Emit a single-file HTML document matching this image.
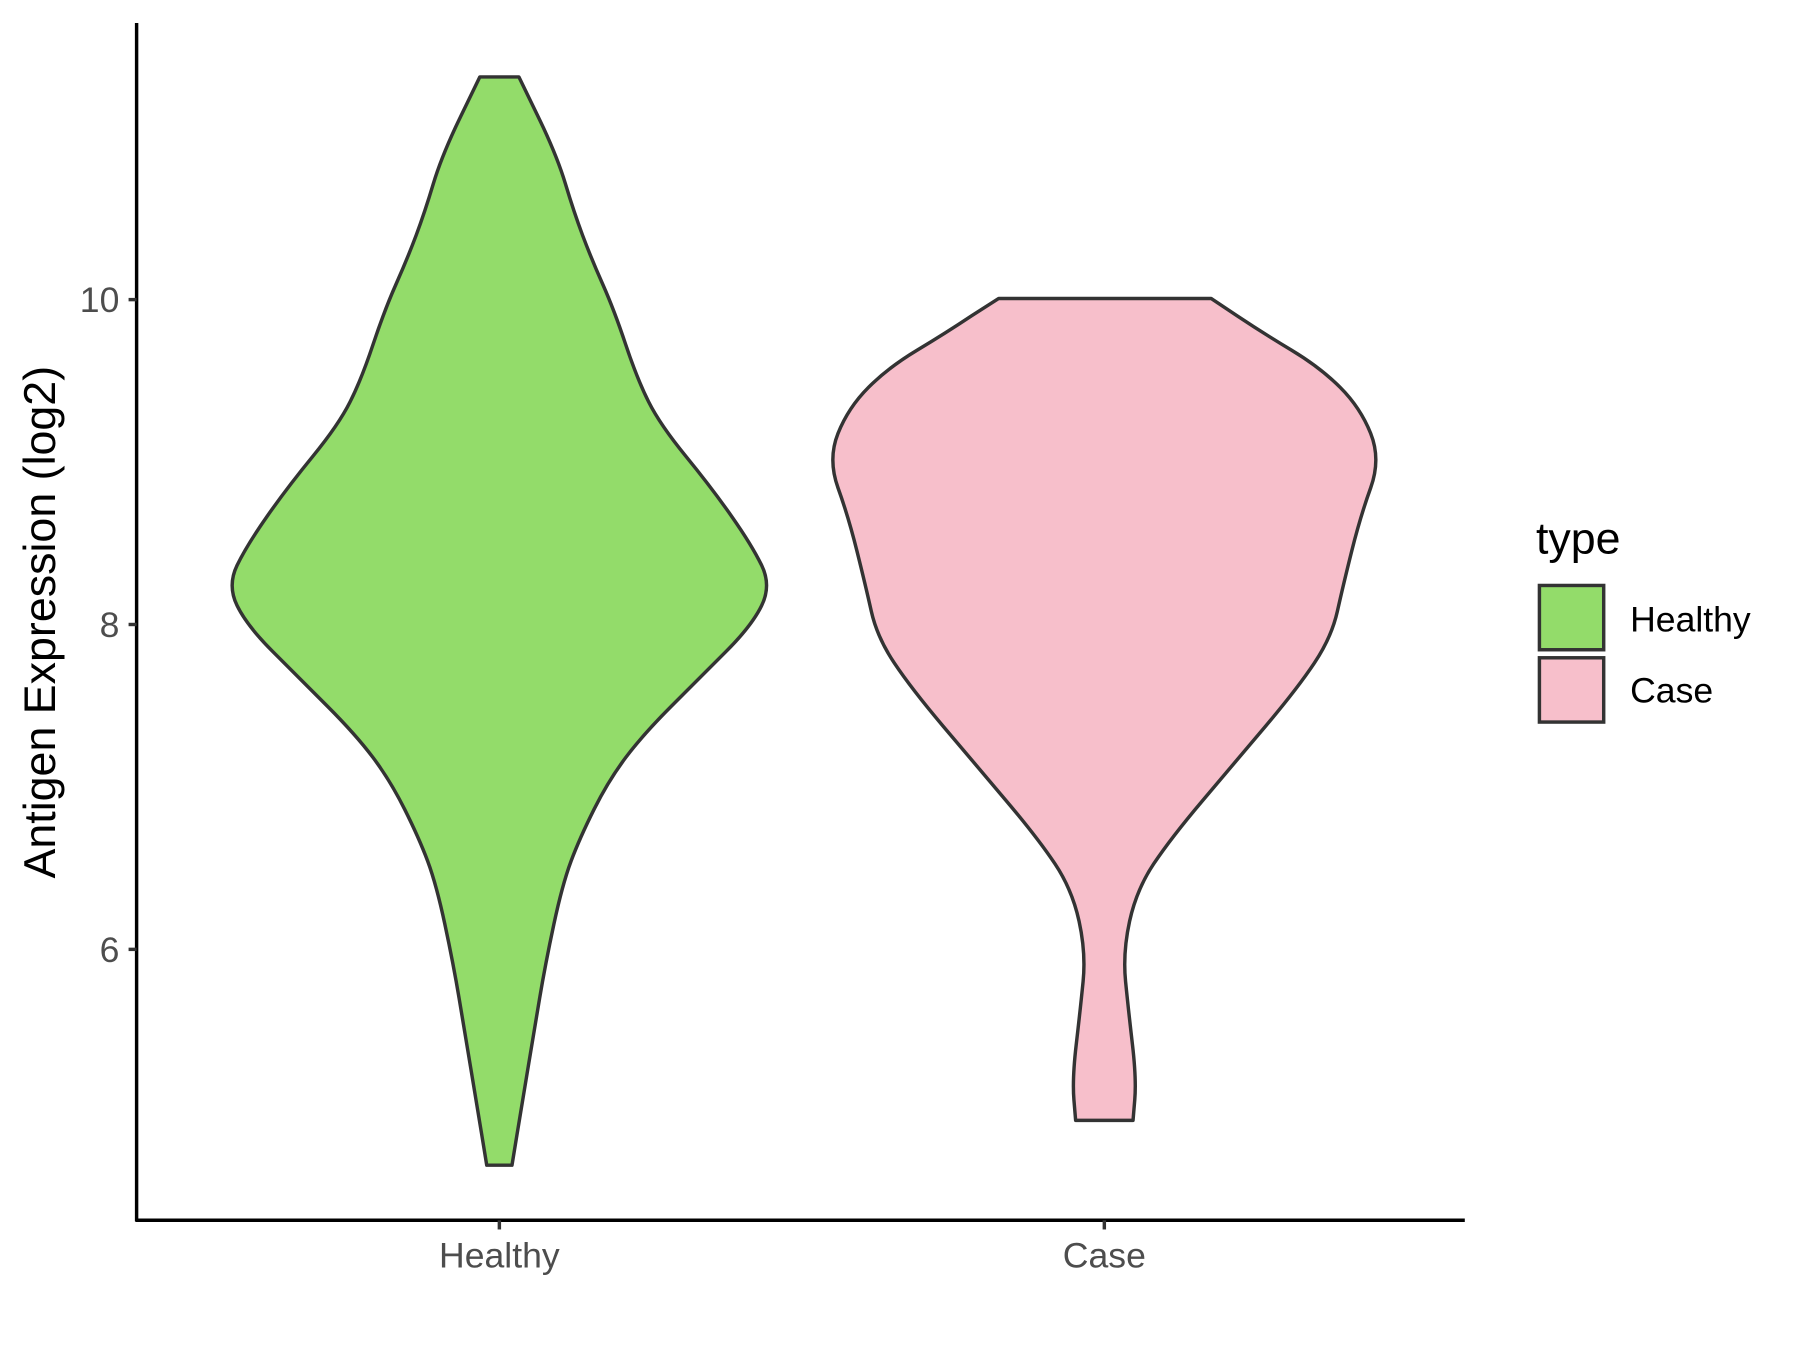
<!DOCTYPE html>
<html><head><meta charset="utf-8"><style>
html,body{margin:0;padding:0;background:#fff;}
svg{display:block;}
text{font-family:"Liberation Sans",Arial,sans-serif;}
</style></head><body>
<svg width="1800" height="1350" viewBox="0 0 1568 1176" xmlns="http://www.w3.org/2000/svg">
<rect width="1568" height="1176" fill="#fff"/>
<path d="M418,67 L452,67 L468.5,101 Q485,135 492.5,160 Q500,185 507.5,205 Q515,225 525,247.5 Q535,270 545,300 Q555,330 565,350 Q575,370 597.5,397.5 Q620,425 637.5,450 Q655,475 663.5,492.5 Q672,510 663.5,527.5 Q655,545 632.5,567.5 Q610,590 585,615 Q560,640 545,660 Q530,680 517.5,705 Q505,730 497.5,750 Q490,770 482.5,805 Q475,840 470,870 Q465,900 460,930 Q455,960 450.5,987.5 L446,1015 L424,1015 L419.5,987.5 Q415,960 410,930 Q405,900 400,870 Q395,840 387.5,805 Q380,770 372.5,750 Q365,730 352.5,705 Q340,680 325,660 Q310,640 285,615 Q260,590 237.5,567.5 Q215,545 206.5,527.5 Q198,510 206.5,492.5 Q215,475 232.5,450 Q250,425 272.5,397.5 Q295,370 305,350 Q315,330 325,300 Q335,270 345,247.5 Q355,225 362.5,205 Q370,185 377.5,160 Q385,135 401.5,101 Z" fill="#93dc6a" stroke="#333" stroke-width="3" stroke-linejoin="round"/>
<path d="M870,260 L1055,260 L1077.5,275 Q1100,290 1125,305 Q1150,320 1167.5,337.5 Q1185,355 1194,377.5 Q1203,400 1194,425 Q1185,450 1177.5,480 Q1170,510 1165,532.5 Q1160,555 1145,577.5 Q1130,600 1102.5,632.5 Q1075,665 1047.5,697.5 Q1020,730 1005,752.5 Q990,775 984,802.5 Q978,830 980.5,855 Q983,880 986.5,910 Q990,940 988.5,958 L987,976 L937,976 L935.5,958 Q934,940 937.5,910 Q941,880 943.5,855 Q946,830 940,802.5 Q934,775 919,752.5 Q904,730 876.5,697.5 Q849,665 821.5,632.5 Q794,600 779,577.5 Q764,555 759,532.5 Q754,510 746.5,480 Q739,450 730,425 Q721,400 730,377.5 Q739,355 756.5,337.5 Q774,320 799,305 Q824,290 846.5,275 Z" fill="#f7bfcb" stroke="#333" stroke-width="3" stroke-linejoin="round"/>
<line x1="119" y1="20" x2="119" y2="1064" stroke="#000" stroke-width="3"/>
<line x1="118" y1="1063" x2="1276" y2="1063" stroke="#000" stroke-width="3"/>
<g stroke="#333" stroke-width="3">
<line x1="112" y1="261" x2="119" y2="261"/><line x1="112" y1="544" x2="119" y2="544"/><line x1="112" y1="827" x2="119" y2="827"/>
<line x1="435" y1="1063" x2="435" y2="1071"/><line x1="962" y1="1063" x2="962" y2="1071"/>
</g>
<g fill="#4d4d4d" font-size="31">
<text x="104" y="272" text-anchor="end">10</text>
<text x="104" y="555" text-anchor="end">8</text>
<text x="104" y="838" text-anchor="end">6</text>
<text x="435" y="1104" text-anchor="middle">Healthy</text>
<text x="962" y="1104" text-anchor="middle">Case</text>
</g>
<text transform="translate(48,542) rotate(-90)" text-anchor="middle" font-size="39" fill="#000">Antigen Expression (log2)</text>
<text x="1338" y="482" font-size="39" fill="#000">type</text>
<rect x="1341" y="510" width="56" height="56" fill="#93dc6a" stroke="#333" stroke-width="3"/>
<rect x="1341" y="573" width="56" height="56" fill="#f7bfcb" stroke="#333" stroke-width="3"/>
<text x="1420" y="550" font-size="31" fill="#000">Healthy</text>
<text x="1420" y="612" font-size="31" fill="#000">Case</text>
</svg>
</body></html>
